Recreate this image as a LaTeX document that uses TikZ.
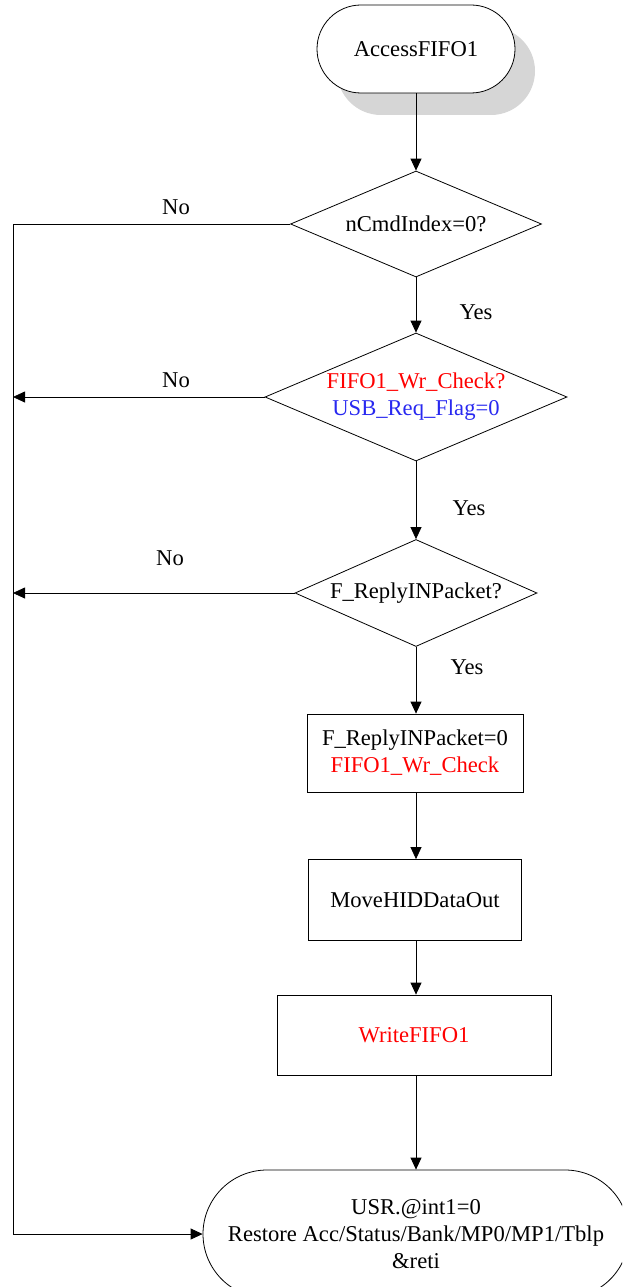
\documentclass[tikz,border=0pt]{standalone}
\usepackage{fontspec}
\setmainfont{Liberation Serif}
\usetikzlibrary{arrows.meta,shapes.geometric,shadows}
\definecolor{txtred}{RGB}{255,0,0}
\definecolor{txtblue}{RGB}{40,40,240}
\definecolor{shadowgray}{RGB}{214,214,214}
\begin{document}
\begin{tikzpicture}[x=1pt,y=-1pt,
  every node/.style={font=\fontsize{22.6}{27}\selectfont, align=center, inner sep=0pt},
  line/.style={draw=black, line width=0.8pt},
  arr/.style={line, -{Triangle[length=12pt,width=11pt]}},
  procbox/.style={draw=black, line width=0.8pt, rectangle},
  lbl/.style={font=\fontsize{22.6}{27}\selectfont}
]
\useasboundingbox (0,0) rectangle (622,1287);
\begin{scope}
\clip (0,0) rectangle (622,1287);

% start terminal
\node[draw=black, line width=0.8pt, fill=white, rectangle, rounded corners=44pt,
      minimum width=198pt, minimum height=88pt,
      drop shadow={shadow xshift=20pt, shadow yshift=-22pt, fill=shadowgray, opacity=1}]
  (start) at (416,49) {AccessFIFO1};

% decisions (shape) + text
\node[draw=black, line width=0.8pt, diamond, minimum width=251pt, minimum height=106pt] (d1) at (416,224) {};
\node (d1t) at (416,224) {nCmdIndex=0?};

\node[draw=black, line width=0.8pt, diamond, minimum width=302pt, minimum height=128pt] (d2) at (416,397) {};
\node (d2t) at (416,397) {\textcolor{txtred}{FIFO1\_Wr\_Check?}\\\textcolor{txtblue}{USB\_Req\_Flag=0}};

\node[draw=black, line width=0.8pt, diamond, minimum width=242pt, minimum height=107pt] (d3) at (416,593) {};
\node (d3t) at (416,593) {F\_ReplyINPacket?};

% process boxes
\node[procbox, minimum width=216pt, minimum height=78pt] (b1) at (415,753)
  {F\_ReplyINPacket=0\\\textcolor{txtred}{FIFO1\_Wr\_Check}};
\node[procbox, minimum width=213pt, minimum height=81pt] (b2) at (415,900) {MoveHIDDataOut};
\node[procbox, minimum width=274pt, minimum height=80pt] (b3) at (414,1035) {\textcolor{txtred}{WriteFIFO1}};

% end terminal
\node[draw=black, line width=0.8pt, rectangle, rounded corners=64pt,
      minimum width=426pt, minimum height=128pt] (end) at (416,1234)
  {USR.@int1=0\\Restore Acc/Status/Bank/MP0/MP1/Tblp\\\&reti};

% main flow
\draw[arr] (start.south) -- (d1.north);
\draw[arr] (d1.south) -- (d2.north);
\draw[arr] (d2.south) -- (d3.north);
\draw[arr] (d3.south) -- (b1.north -| d3.south);
\draw[arr] (b1.south -| d3.south) -- (b2.north -| d3.south);
\draw[arr] (b2.south -| d3.south) -- (b3.north -| d3.south);
\draw[arr] (b3.south -| d3.south) -- (end.north);

% left bus
\coordinate (ltop) at (13,224);
\coordinate (lbot) at (13,1234);
\coordinate (l2) at (13,397);
\coordinate (l3) at (13,593);
\draw[line] (d1.west) -- (ltop) -- (lbot);
\draw[arr] (lbot) -- (end.west);
\draw[arr] (d2.west) -- (l2);
\draw[arr] (d3.west) -- (l3);

% labels
\node[lbl] (no1) at (176,207) {No};
\node[lbl] (no2) at (176,380) {No};
\node[lbl] (no3) at (170,558) {No};
\node[lbl] (yes1) at (476,312) {Yes};
\node[lbl] (yes2) at (469,508) {Yes};
\node[lbl] (yes3) at (467,667) {Yes};
\end{scope}
\end{tikzpicture}
\end{document}
